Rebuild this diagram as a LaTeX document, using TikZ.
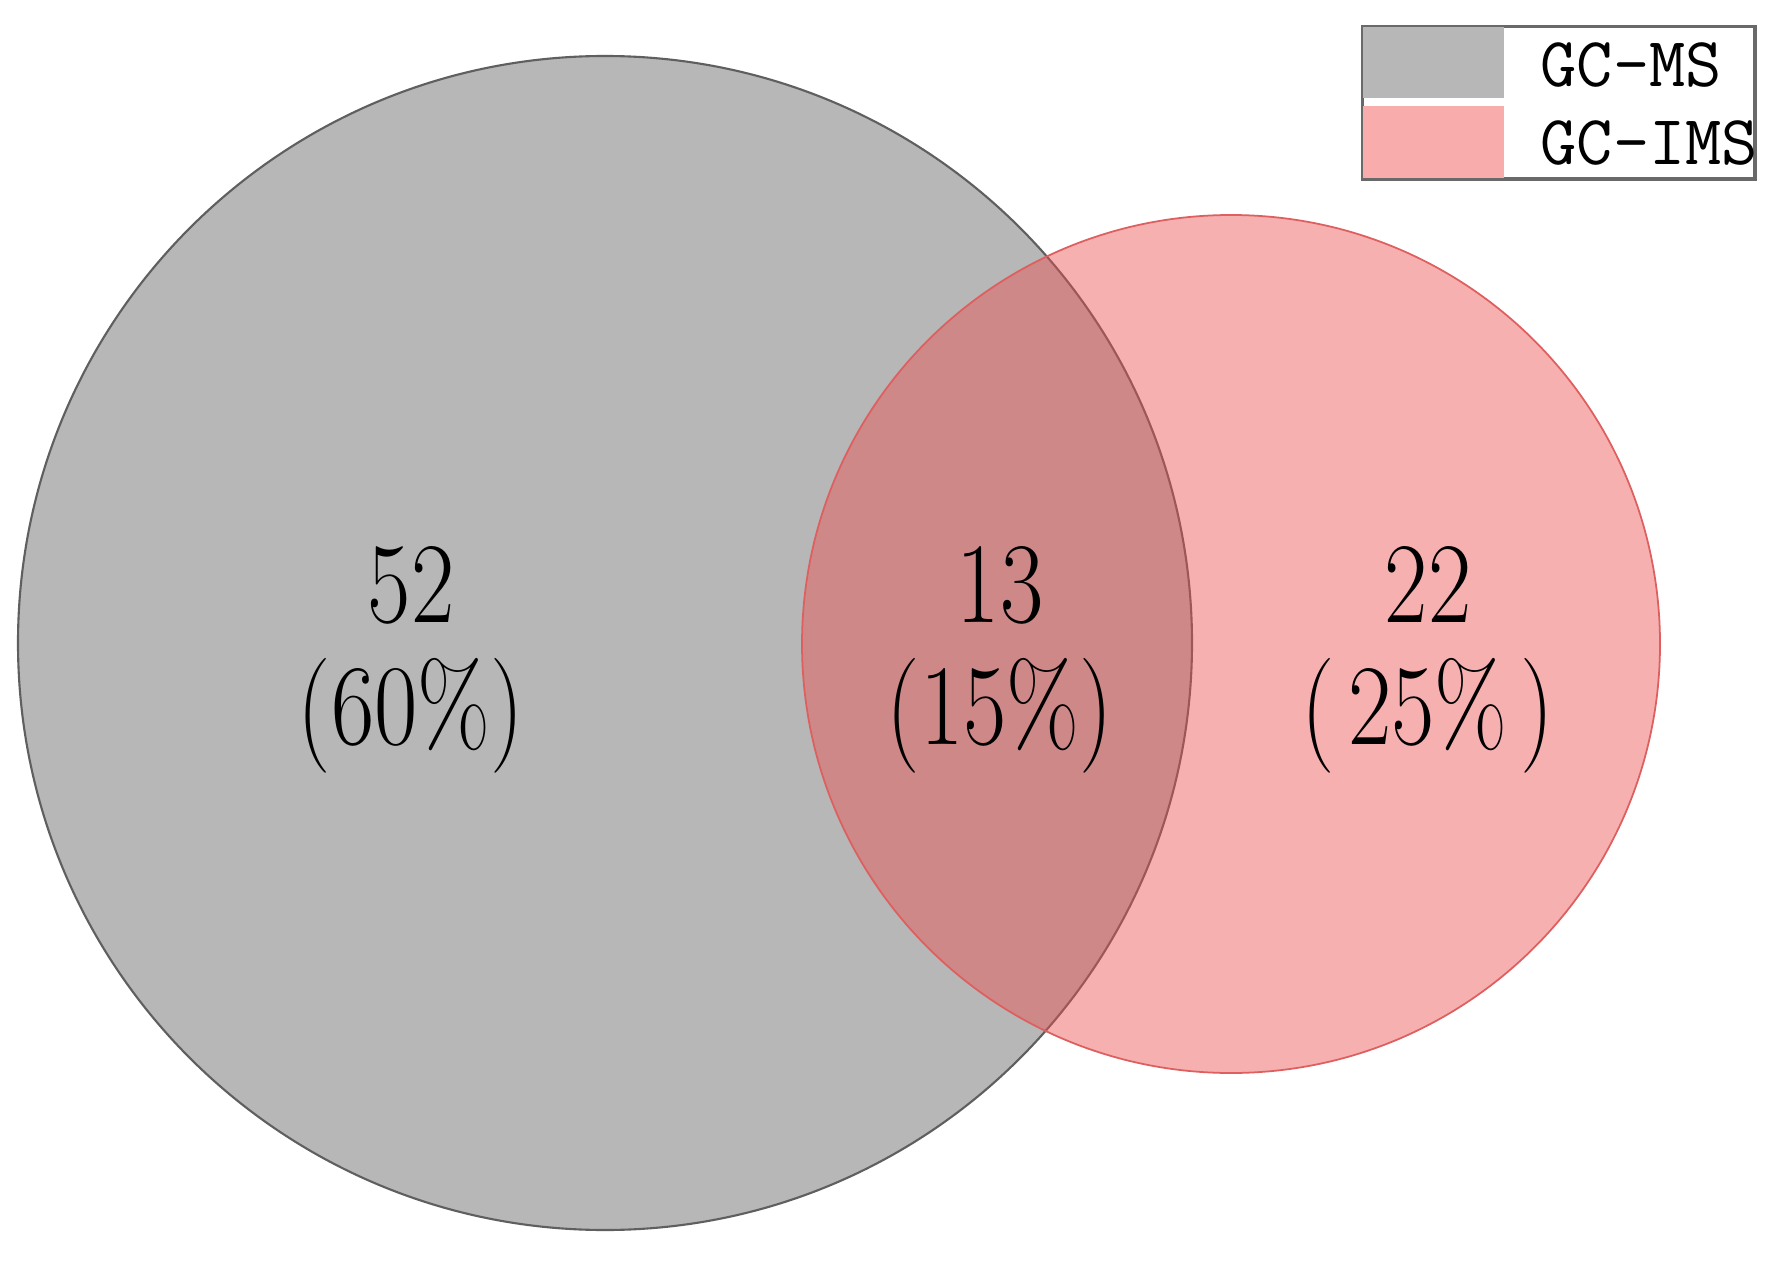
\documentclass[tikz,border=0pt]{standalone}
\usepackage{fontspec}
\usepackage{graphicx}
\definecolor{msgray}{RGB}{183,183,183}
\definecolor{msline}{RGB}{95,95,95}
\definecolor{imsbase}{RGB}{239,77,77}
\definecolor{imsline}{RGB}{222,95,95}
\definecolor{imsleg}{RGB}{248,172,172}
\definecolor{legline}{RGB}{105,105,105}
\newcommand{\narrowtxt}[1]{\scalebox{0.82}[1]{#1}}
\tikzset{
  setms/.style={circle, draw=msline, line width=0.6pt, fill=msgray, inner sep=0pt, minimum size=1174*0.01cm},
  setims/.style={circle, draw=imsline, line width=0.5pt, fill=imsbase, fill opacity=0.444, draw opacity=1, inner sep=0pt, minimum size=858*0.01cm},
  countlbl/.style={align=center, inner sep=0pt, font=\fontsize{32.7}{34.7}\selectfont, text=black},
  legendlbl/.style={anchor=base west, inner sep=0pt, font=\fontsize{20}{24}\ttfamily},
  swatch/.style={draw=none, inner sep=0pt, anchor=north west, minimum width=141*0.01cm}
}
\begin{document}
\begin{tikzpicture}[x=0.01cm,y=-0.01cm]
\useasboundingbox[fill=white] (0,0) rectangle (1779,1261);
% circles
\node (ms) [setms] at (605,643) {};
\node (ims) [setims] at (1231,644) {};
% counts
\node (onlyms) [countlbl] at (411,660) {\narrowtxt{52}\\\narrowtxt{(60\%)}};
\node (both) [countlbl] at (1000,660) {\narrowtxt{13}\\\narrowtxt{(15\%)}};
\node (onlyims) [countlbl] at (1428,660) {\narrowtxt{22}\\\narrowtxt{(\hspace{4.5pt}25\%\hspace{4.5pt})}};
% legend
\node (legbox) [draw=legline, line width=0.7pt, inner sep=0pt, anchor=north west, minimum width=391*0.01cm, minimum height=151*0.01cm] at (1362,26) {};
\node (swms) [swatch, fill=msgray, minimum height=71*0.01cm] at (1362,26) {};
\node (swims) [swatch, fill=imsleg, minimum height=72*0.01cm] at (1362,105) {};
\node (lgms) [legendlbl] at (1540,87) {GC-MS};
\node (lgims) [legendlbl] at (1540,165) {GC-IMS};
\draw[legline, line width=0.7pt] (legbox.north west) rectangle (legbox.south east);
\end{tikzpicture}
\end{document}
